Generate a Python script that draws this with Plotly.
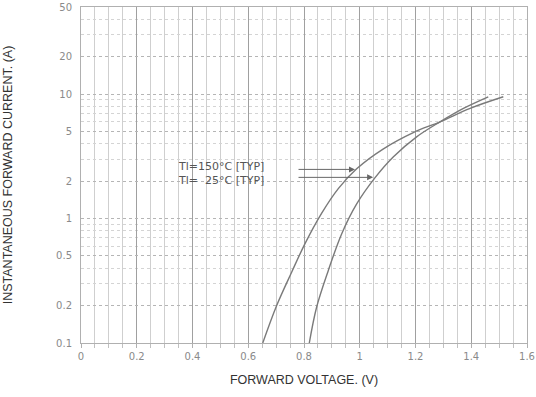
import plotly.graph_objects as go
import math

# Data
v_150 = [0.652, 0.702, 0.756, 0.804, 0.863, 0.923, 0.989, 1.085, 1.192, 1.288, 1.396, 1.515]
i_150 = [0.10, 0.20, 0.372, 0.631, 1.10, 1.74, 2.51, 3.63, 4.90, 5.98, 7.67, 9.5]
v_25 = [0.819, 0.845, 0.887, 0.935, 0.989, 1.055, 1.120, 1.204, 1.288, 1.372, 1.461]
i_25 = [0.10, 0.193, 0.381, 0.752, 1.31, 2.13, 3.12, 4.53, 5.98, 7.67, 9.5]

x_ticks = [0, 0.2, 0.4, 0.6, 0.8, 1.0, 1.2, 1.4, 1.6]
x_labels = ["0", "0.2", "0.4", "0.6", "0.8", "1", "1.2", "1.4", "1.6"]
y_ticks = [0.1, 0.2, 0.5, 1, 2, 5, 10, 20, 50]
y_labels = ["0.1", "0.2", "0.5", "1", "2", "5", "10", "20", "50"]

label_150 = "Tl=150°C [TYP]"
label_25 = "Tl=\u00a0\u00a025°C [TYP]"

line_color = "#7a7a7a"
fig = go.Figure()
fig.add_trace(go.Scatter(x=v_150, y=i_150, mode="lines",
                         line=dict(color=line_color, width=1.4, shape="spline", smoothing=1.0), showlegend=False))
fig.add_trace(go.Scatter(x=v_25, y=i_25, mode="lines",
                         line=dict(color=line_color, width=1.4, shape="spline", smoothing=1.0), showlegend=False))

font = "Liberation Sans, Arial, sans-serif"
wide_font = "DejaVu Sans, Verdana, sans-serif"

fig.update_layout(
    width=536, height=397,
    margin=dict(l=81, r=9, t=7, b=54),
    paper_bgcolor="white", plot_bgcolor="white",
    font=dict(family=font, size=10, color="#8a8a8a"),
    xaxis=dict(
        range=[0, 1.6], tickvals=x_ticks, ticktext=x_labels, automargin=False,
        showgrid=True, gridcolor="#a0a0a0", gridwidth=1.2,
        minor=dict(dtick=0.05, showgrid=True, gridcolor="#cfcfcf", gridwidth=1,
                   ticks="outside", ticklen=4, tickcolor="#c0c0c0"),
        ticks="outside", ticklen=4, tickcolor="#b0b0b0",
        showline=True, linecolor="#b0b0b0", mirror=True, zeroline=False,
        title=dict(text="FORWARD VOLTAGE. (V)", font=dict(size=12.5, color="#333333"), standoff=14),
        tickfont=dict(size=10, color="#8a8a8a", family=wide_font),
    ),
    yaxis=dict(
        type="log", range=[math.log10(0.1), math.log10(50)], automargin=False,
        tickvals=y_ticks, ticktext=y_labels,
        showgrid=True, gridcolor="#b5b5b5", gridwidth=1, griddash="dot",
        minor=dict(tickvals=[0.3, 0.4, 0.6, 0.7, 0.8, 0.9, 3, 4, 6, 7, 8, 9, 30, 40],
                   showgrid=True, gridcolor="#d4d4d4", gridwidth=1, griddash="dot"),
        showline=True, linecolor="#b0b0b0", mirror=True, zeroline=False,
        ticks="", ticklabelstandoff=6,
        title=dict(text="INSTANTANEOUS FORWARD CURRENT. (A)", font=dict(size=12.5, color="#333333"), standoff=40),
        tickfont=dict(size=10, color="#8a8a8a", family=wide_font),
    ),
)

# Arrow annotations
fig.add_annotation(x=0.983, y=math.log10(2.48), ax=0.775, ay=math.log10(2.48), xref="x", yref="y",
                   axref="x", ayref="y", text="", showarrow=True, arrowhead=2, arrowsize=1.2,
                   arrowwidth=1, arrowcolor="#666666")
fig.add_annotation(x=1.048, y=math.log10(2.14), ax=0.775, ay=math.log10(2.14), xref="x", yref="y",
                   axref="x", ayref="y", text="", showarrow=True, arrowhead=2, arrowsize=1.2,
                   arrowwidth=1, arrowcolor="#666666")
fig.add_annotation(x=0.345, y=math.log10(2.31), xref="x", yref="y",
                   text=label_150 + "<br>" + label_25, showarrow=False, align="left",
                   xanchor="left", yanchor="middle", borderpad=0,
                   font=dict(size=11, color="#555555", family=wide_font))

fig.write_html("out.html", config={"displayModeBar": False},
               post_script="document.body.style.margin='0px';document.body.style.padding='0px';")
